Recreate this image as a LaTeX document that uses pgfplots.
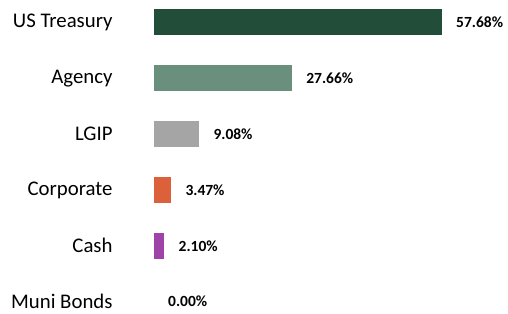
\documentclass[border=0pt]{standalone}
\usepackage{pgfplots}
\pgfplotsset{compat=1.18}
\usepackage{fontspec}
\setmainfont{Carlito}
\definecolor{cTreas}{HTML}{224D38}
\definecolor{cAgency}{HTML}{6A8F7C}
\definecolor{cLGIP}{HTML}{A5A5A5}
\definecolor{cCorp}{HTML}{DC613A}
\definecolor{cCash}{HTML}{A043A8}
\begin{document}
\begin{tikzpicture}
\useasboundingbox (0,0) rectangle (508bp,314bp);
\begin{axis}[
  at={(154bp,0bp)}, anchor=south west,
  scale only axis, width=354bp, height=314bp,
  xbar, bar shift=0pt, bar width=26bp,
  xmin=0, xmax=70.9,
  ymin=-0.40, ymax=5.22, y dir=reverse,
  hide x axis,
  axis y line*=left,
  y axis line style={draw=none},
  ytick style={draw=none},
  ytick={0,1,2,3,4,5},
  yticklabels={US Treasury,Agency,LGIP,Corporate,Cash,Muni Bonds},
  yticklabel style={anchor=east, inner sep=0pt, font=\fontsize{20.8bp}{22bp}\selectfont},
  yticklabel shift=37bp,
  clip=false,
  /pgf/number format/assume math mode=true,
  nodes near coords={\pgfmathprintnumber[fixed,fixed zerofill,precision=2,assume math mode=true]{\pgfplotspointmeta}\%},
  every node near coord/.append style={anchor=west, inner sep=0pt, xshift=14bp, font=\bfseries\fontsize{15.5bp}{18bp}\selectfont, text=black},
  point meta=explicit,
]
\addplot[fill=cTreas, draw=none] coordinates {(57.68,0) [57.68]};
\addplot[fill=cAgency, draw=none] coordinates {(27.66,1) [27.66]};
\addplot[fill=cLGIP, draw=none] coordinates {(9.08,2) [9.08]};
\addplot[fill=cCorp, draw=none] coordinates {(3.47,3) [3.47]};
\addplot[fill=cCash, draw=none] coordinates {(2.10,4) [2.10]};
\addplot[fill=white, draw=none] coordinates {(0,5) [0.00]};
\end{axis}
\end{tikzpicture}
\end{document}
